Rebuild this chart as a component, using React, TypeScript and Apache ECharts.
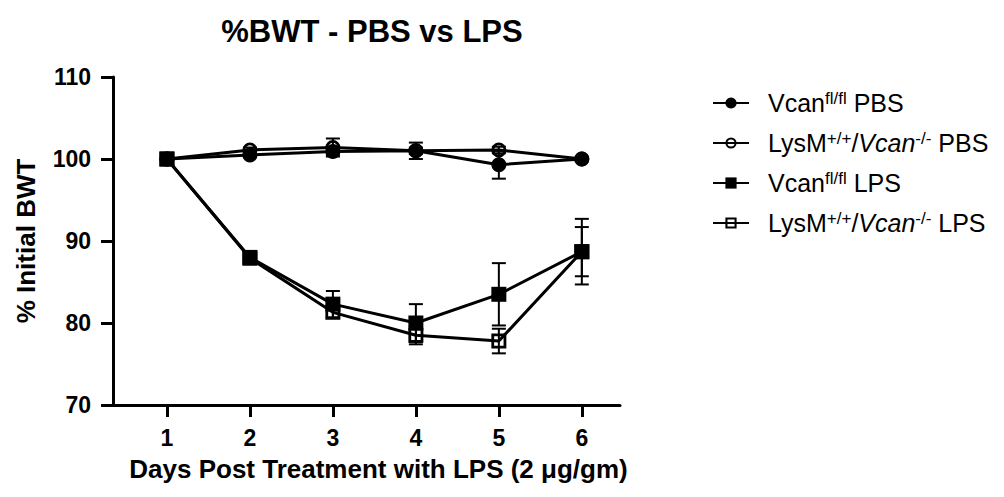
import React, { useEffect, useRef } from "react";
import * as echarts from "echarts";

const days = [1, 2, 3, 4, 5, 6];
const xTickValues = [1, 2, 3, 4, 5, 6];
const seriesNames = [
  "Vcan fl/fl PBS",
  "LysM+/+/Vcan-/- PBS",
  "Vcan fl/fl LPS",
  "LysM+/+/Vcan-/- LPS",
];
const legendLabels = [
  "Vcan{sup|fl/fl} PBS",
  "LysM{sup|+/+}/{it|Vcan}{sup|-/-} PBS",
  "Vcan{sup|fl/fl} LPS",
  "LysM{sup|+/+}/{it|Vcan}{sup|-/-} LPS",
];
const vcanPbs = [100, 100.5, 100.9, 101.0, 99.3, 100.0];
const vcanPbsErr = [0, 0.3, 0.4, 1.0, 1.7, 0.2];
const lysPbs = [100, 101.1, 101.4, 101.0, 101.1, 100.0];
const lysPbsErr = [0, 0.3, 1.1, 0.4, 0.4, 0.2];
const vcanLps = [100, 88.0, 82.3, 80.0, 83.5, 88.7];
const vcanLpsErr = [0, 0.4, 1.6, 2.3, 3.8, 4.0];
const lysLps = [100, 87.9, 81.3, 78.5, 77.8, 88.7];
const lysLpsErr = [0, 0.4, 0.7, 1.1, 1.5, 3.0];

const FONT = "'Liberation Sans', Arial, Helvetica, sans-serif";
const RING_CIRCLE =
  "path://M7 0 A7 7 0 1 1 7 14 A7 7 0 1 1 7 0 Z M7 2.6 A4.4 4.4 0 1 0 7 11.4 A4.4 4.4 0 1 0 7 2.6 Z";
const RING_SQUARE = "path://M0 0 L14 0 L14 14 L0 14 Z M2.6 2.6 L2.6 11.4 L11.4 11.4 L11.4 2.6 Z";

function errorSeries(vals: number[], errs: number[]) {
  const data = days
    .map((d, i) => [d, vals[i] - errs[i], vals[i] + errs[i], errs[i]])
    .filter((r) => r[3] > 0);
  return {
    type: "custom",
    silent: true,
    z: 1,
    encode: { x: 0, y: [1, 2] },
    data,
    renderItem: (_p: any, api: any) => {
      const x = api.value(0);
      const lo = api.coord([x, api.value(1)]);
      const hi = api.coord([x, api.value(2)]);
      const w = 7;
      const st = { stroke: "#000", lineWidth: 2 };
      return {
        type: "group",
        children: [
          { type: "line", shape: { x1: lo[0], y1: lo[1], x2: hi[0], y2: hi[1] }, style: st },
          { type: "line", shape: { x1: lo[0] - w, y1: lo[1], x2: lo[0] + w, y2: lo[1] }, style: st },
          { type: "line", shape: { x1: hi[0] - w, y1: hi[1], x2: hi[0] + w, y2: hi[1] }, style: st },
        ],
      };
    },
  };
}

function lineSeries(name: string, vals: number[], symbol: string) {
  return {
    type: "line",
    name,
    z: 3,
    data: days.map((d, i) => [d, vals[i]]),
    symbol,
    symbolSize: 15,
    lineStyle: { color: "#000", width: 3 },
    itemStyle: { color: "#000", borderWidth: 0 },
  };
}

export default function App() {
  const ref = useRef<HTMLDivElement>(null);
  useEffect(() => {
    document.body.style.margin = "0";
    const chart = echarts.init(ref.current!, undefined, { renderer: "svg" });
    chart.setOption({
      animation: false,
      backgroundColor: "#fff",
      textStyle: { fontFamily: FONT },
      graphic: [
        {
          type: "text",
          x: 372,
          y: 31,
          style: {
            text: "%BWT - PBS vs LPS",
            font: `bold 31px ${FONT}`,
            fill: "#000",
            textAlign: "center",
            textVerticalAlign: "middle",
          },
        },
      ],
      grid: { left: 113, top: 77, width: 507, height: 328, containLabel: false },
      xAxis: {
        type: "value",
        min: 0.35,
        max: 6.46,
        splitLine: { show: false },
        axisLine: { show: true, onZero: false, lineStyle: { color: "#000", width: 3 } },
        axisTick: { show: true, customValues: xTickValues, length: 12, lineStyle: { color: "#000", width: 3 } },
        axisLabel: {
          customValues: xTickValues,
          color: "#000",
          fontSize: 23,
          fontWeight: "bold",
          fontFamily: FONT,
          margin: 21,
        },
        name: "Days Post Treatment with LPS (2 \u03bcg/gm)",
        nameLocation: "middle",
        nameGap: 51,
        nameTextStyle: { color: "#000", fontSize: 26, fontWeight: "bold", fontFamily: FONT, padding: [0, 0, 0, 24] },
      },
      yAxis: {
        type: "value",
        min: 70,
        max: 110,
        interval: 10,
        splitLine: { show: false },
        axisLine: { show: true, lineStyle: { color: "#000", width: 3 } },
        axisTick: { show: true, length: 12, lineStyle: { color: "#000", width: 3 } },
        axisLabel: { color: "#000", fontSize: 23, fontWeight: "bold", fontFamily: FONT, margin: 22 },
        name: "% Initial BWT",
        nameLocation: "middle",
        nameGap: 74,
        nameTextStyle: { color: "#000", fontSize: 26, fontWeight: "bold", fontFamily: FONT },
      },
      legend: {
        data: seriesNames,
        orient: "vertical",
        left: 712,
        top: 90,
        padding: 0,
        itemWidth: 36,
        itemHeight: 14,
        itemGap: 14,
        formatter: (n: string) => legendLabels[seriesNames.indexOf(n)],
        textStyle: {
          color: "#000",
          fontSize: 25,
          fontFamily: FONT,
          lineHeight: 26,
          padding: [0, 0, 0, 14],
          rich: {
            sup: { fontSize: 17, lineHeight: 14, verticalAlign: "top", fontFamily: FONT, color: "#000" },
            it: { fontSize: 25, fontStyle: "italic", fontFamily: FONT, color: "#000", lineHeight: 26 },
          },
        },
      },
      series: [
        errorSeries(vcanPbs, vcanPbsErr),
        errorSeries(lysPbs, lysPbsErr),
        errorSeries(vcanLps, vcanLpsErr),
        errorSeries(lysLps, lysLpsErr),
        lineSeries(seriesNames[0], vcanPbs, "circle"),
        lineSeries(seriesNames[1], lysPbs, RING_CIRCLE),
        lineSeries(seriesNames[2], vcanLps, "rect"),
        lineSeries(seriesNames[3], lysLps, RING_SQUARE),
      ],
    });
    return () => chart.dispose();
  }, []);
  return <div ref={ref} style={{ position: "absolute", left: 0, top: 0, width: 1004, height: 497 }} />;
}
